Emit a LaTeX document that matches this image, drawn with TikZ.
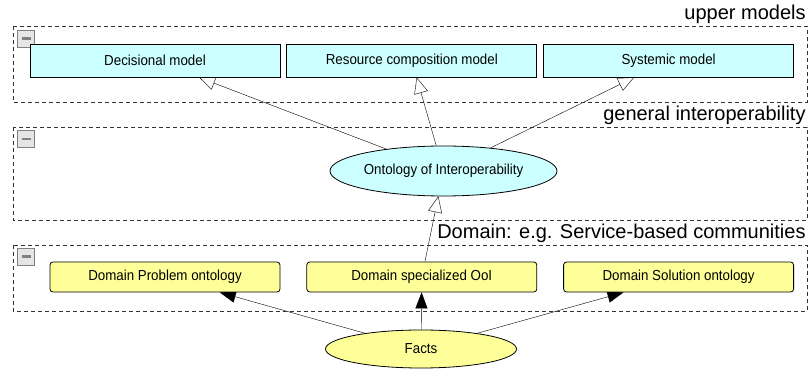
\documentclass[tikz,border=0pt]{standalone}
\usepackage{fontspec}
\setmainfont{Liberation Sans}
\newfontfamily\labelfont[FakeStretch=0.92]{Liberation Sans}
\usetikzlibrary{arrows.meta, backgrounds, positioning, shapes.geometric}
\definecolor{paleblue}{HTML}{CCFFFF}
\definecolor{paleyellow}{HTML}{FFFF99}
\tikzstyle{modelbox}=[rectangle, draw=black, fill=paleblue, minimum width=250pt, minimum height=33pt, inner sep=0pt, font=\labelfont\fontsize{14.5}{16}\selectfont]
\tikzstyle{domainbox}=[rectangle, rounded corners=3pt, draw=black, fill=paleyellow, minimum width=230pt, minimum height=30pt, inner sep=0pt, font=\labelfont\fontsize{14.5}{16}\selectfont]
\tikzstyle{conceptnode}=[ellipse, draw=black, inner sep=0pt, font=\labelfont\fontsize{14.5}{16}\selectfont]
\tikzstyle{layerframe}=[draw=black!80, dash pattern=on 4pt off 3pt]
\tikzstyle{layername}=[anchor=base east, inner sep=0pt, font=\fontsize{20}{22}\selectfont]
\tikzstyle{collapse}=[rectangle, draw=black!50, fill=black!10, minimum size=17pt, inner sep=0pt,
  path picture={\draw[line width=2.2pt] ([xshift=4pt]path picture bounding box.west) -- ([xshift=-4pt]path picture bounding box.east);}]
\tikzstyle{isa}=[-{Triangle[open, length=16pt, width=14pt]}]
\tikzstyle{feeds}=[-{Triangle[length=16pt, width=12pt]}]

\begin{document}
\begin{tikzpicture}[x=1pt, y=-1pt, node distance=6pt, line width=0.8pt]
    \useasboundingbox (0,0) rectangle (809,371);

    % layers
    \draw[layerframe] (13,26) rectangle (807,102);
    \draw[layerframe] (13,127) rectangle (807,220);
    \draw[layerframe] (13,245) rectangle (807,311);
    \node[layername] (upper) at (806,20) {upper models};
    \node[layername] (general) at (806,121) {general interoperability};
    \node[layername] (dom) at (806,239) {Domain: e.g. Service-based communities};
    \node[collapse] (c0) at (26,38.5) {};
    \node[collapse] (c1) at (26,139) {};
    \node[collapse] (c2) at (26,256.5) {};

    % upper models
    \node[modelbox] (dec) at (155,60.5) {Decisional model};
    \node[modelbox] (res) [right=of dec] {Resource composition model};
    \node[modelbox] (sys) [right=of res] {Systemic model};

    % interoperability
    \node[conceptnode, fill=paleblue, minimum width=227pt, minimum height=50pt] (ooi) at (443.5,171) {Ontology of Interoperability};

    % domain
    \node[domainbox] (prob) at (165,277) {Domain Problem ontology};
    \node[domainbox] (spec) [right=26pt of prob] {Domain specialized OoI};
    \node[domainbox] (sol) [right=26pt of spec] {Domain Solution ontology};

    \node[conceptnode, fill=paleyellow, minimum width=191pt, minimum height=38pt] (facts) at (421,349) {Facts};

    \begin{scope}[on background layer]
    \draw[isa] (ooi) -- (dec);
    \draw[isa] (ooi) -- (res);
    \draw[isa] (ooi) -- (sys);
    \draw[isa] (spec) -- (ooi);
    \draw[feeds] (facts) -- (prob);
    \draw[feeds] (facts) -- (spec);
    \draw[feeds] (facts) -- (sol);
    \end{scope}
\end{tikzpicture}
\end{document}
